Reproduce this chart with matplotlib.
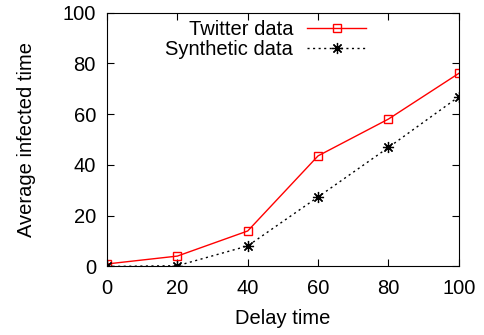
import matplotlib
matplotlib.use("Agg")
from matplotlib import pyplot as plt

delay = [0, 20, 40, 60, 80, 100]
twitter = [1.0, 4.1, 14.0, 43.6, 58.1, 76.1]
synthetic = [0.0, 0.3, 8.1, 27.4, 46.9, 66.9]

plt.rcParams['font.family'] = ['Liberation Sans', 'DejaVu Sans']
plt.rcParams['font.size'] = 14.5

fig = plt.figure(figsize=(4.85, 3.35), dpi=100)
ax = fig.add_axes([0.2206, 0.2045, 0.7254, 0.7575])

ax.plot(delay, twitter, color='red', lw=1, marker='s', markersize=6,
        markerfacecolor='none', markeredgecolor='red', markeredgewidth=1,
        label='Twitter data')
ax.plot(delay, synthetic, color='black', lw=1, linestyle=(0, (1.5, 2.5)),
        marker=(8, 2, 0), markersize=8, markeredgewidth=0.9,
        label='Synthetic data')

ax.set_xlim(0, 100)
ax.set_ylim(0, 100)
ax.set_xticks(delay)
ax.set_yticks([0, 20, 40, 60, 80, 100])
ax.tick_params(direction='in', top=True, right=True, length=5)
ax.tick_params(axis='x', pad=9)
ax.tick_params(axis='y', pad=8)
ax.set_xlabel('Delay time', labelpad=8)
ax.set_ylabel('Average infected time', labelpad=19)

ax.legend(loc='upper left', bbox_to_anchor=(0.143, 1.002), frameon=False,
          markerfirst=False, handlelength=2.9, labelspacing=0.05,
          handletextpad=0.7, borderaxespad=0)

fig.savefig('out.png', dpi=100)
